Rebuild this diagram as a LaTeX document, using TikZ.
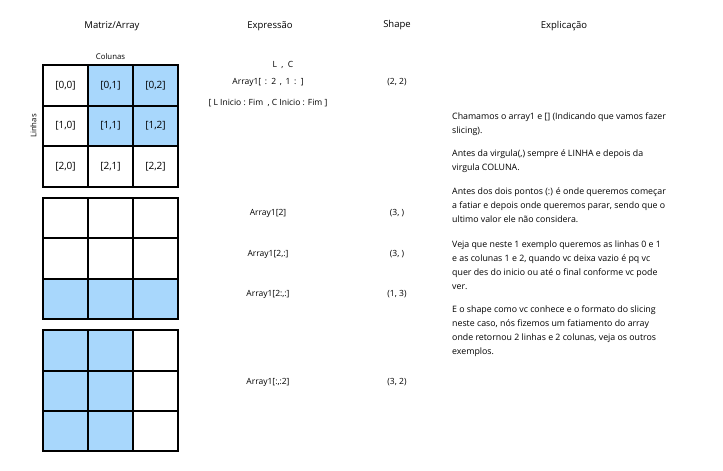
\documentclass[tikz,border=0pt]{standalone}
\usepackage{fontspec}
\setmainfont{Open Sans}
\usetikzlibrary{positioning}
\definecolor{sliceBlue}{HTML}{A8D7FC}
\definecolor{gridBlack}{HTML}{000000}

\tikzset{
  cell/.style={draw=gridBlack, line width=2.2pt, fill=white, minimum width=45pt,
               minimum height=40.5pt, inner sep=0pt, font=\fontsize{10}{12}\selectfont},
  selcell/.style={cell, fill=sliceBlue},
  header/.style={font=\fontsize{9.5}{11}\selectfont},
  expr/.style={font=\fontsize{8.5}{10}\selectfont},
  explain/.style={anchor=north west, align=left, inner sep=0pt,
                  font=\fontsize{8.8}{14}\selectfont}
}

\begin{document}
\begin{tikzpicture}[x=1pt, y=-1pt]
  \useasboundingbox[fill=white] (0,0) rectangle (723,471);

  % titulos das colunas
  \node[header] (hMatriz) at (112,26) {Matriz/Array};
  \node[header] (hExpr)   at (270,26) {Expressão};
  \node[header] (hShape)  at (397,25) {Shape};
  \node[header] (hExpl)   at (564,26) {Explicação};

  % exemplo 1: Array1[:2, 1:]
  \foreach \r/\c/\s/\x/\y in {0/0/cell/65.5/85.5, 0/1/selcell/110.5/85.5, 0/2/selcell/155.5/85.5,
                              1/0/cell/65.5/126,  1/1/selcell/110.5/126,  1/2/selcell/155.5/126,
                              2/0/cell/65.5/166.5, 2/1/cell/110.5/166.5,  2/2/cell/155.5/166.5}
    \node[\s] (a\r\c) at (\x,\y) {[\r,\c]};
  \node[font=\fontsize{7.8}{9}\selectfont, above=1pt of a01.north] (colunas) {Colunas};
  \node[font=\fontsize{7.8}{9}\selectfont, rotate=90, left=2pt of a10.west, anchor=south] (linhas) {Linhas};

  % exemplo 2: Array1[2:,:]
  \foreach \r/\c/\s/\x/\y in {0/0/cell/65.5/218, 0/1/cell/110.5/218, 0/2/cell/155.5/218,
                              1/0/cell/65.5/258.5, 1/1/cell/110.5/258.5, 1/2/cell/155.5/258.5,
                              2/0/selcell/65.5/299, 2/1/selcell/110.5/299, 2/2/selcell/155.5/299}
    \node[\s] (b\r\c) at (\x,\y) {};

  % exemplo 3: Array1[:,:2]
  \foreach \r/\c/\s/\x/\y in {0/0/selcell/65.5/350.5, 0/1/selcell/110.5/350.5, 0/2/cell/155.5/350.5,
                              1/0/selcell/65.5/391,   1/1/selcell/110.5/391,   1/2/cell/155.5/391,
                              2/0/selcell/65.5/431,   2/1/selcell/110.5/431,   2/2/cell/155.5/431}
    \node[\s] (c\r\c) at (\x,\y) {};

  % expressoes e shapes
  \node[expr] (lc)    at (283,65)  {L \ , \ C};
  \node[expr] (e1)    at (268,82)  {Array1[ \,:\, 2 \,,\, 1 \,:\, ]};
  \node[expr] (s1)    at (397,82)  {(2, 2)};
  \node[expr] (guia)  at (268,103) {[ L Inicio : Fim \ , C Inicio : Fim ]};
  \node[expr] (e2)    at (268,213) {Array1[2]};
  \node[expr] (s2)    at (397,213) {(3, )};
  \node[expr] (e3)    at (268,254) {Array1[2,:]};
  \node[expr] (s3)    at (397,254) {(3, )};
  \node[expr] (e4)    at (268,294) {Array1[2:,:]};
  \node[expr] (s4)    at (397,294) {(1, 3)};
  \node[expr] (e5)    at (268,382) {Array1[:,:2]};
  \node[expr] (s5)    at (397,382) {(3, 2)};

  % explicacao
  \node[explain] (x1) at (452,113) {Chamamos o array1 e [] (Indicando que vamos fazer\\slicing).};
  \node[explain] (x2) at (452,150) {Antes da virgula(,) sempre é LINHA e depois da\\virgula COLUNA.};
  \node[explain] (x3) at (452,188) {Antes dos dois pontos (:) é onde queremos começar\\a fatiar e depois onde queremos parar, sendo que o\\ultimo valor ele não considera.};
  \node[explain] (x4) at (452,241) {Veja que neste 1 exemplo queremos as linhas 0 e 1\\e as colunas 1 e 2, quando vc deixa vazio é pq vc\\quer des do inicio ou até o final conforme vc pode\\ver.};
  \node[explain] (x5) at (452,306) {E o shape como vc conhece e o formato do slicing\\neste caso, nós fizemos um fatiamento do array\\onde retornou 2 linhas e 2 colunas, veja os outros\\exemplos.};
\end{tikzpicture}
\end{document}
